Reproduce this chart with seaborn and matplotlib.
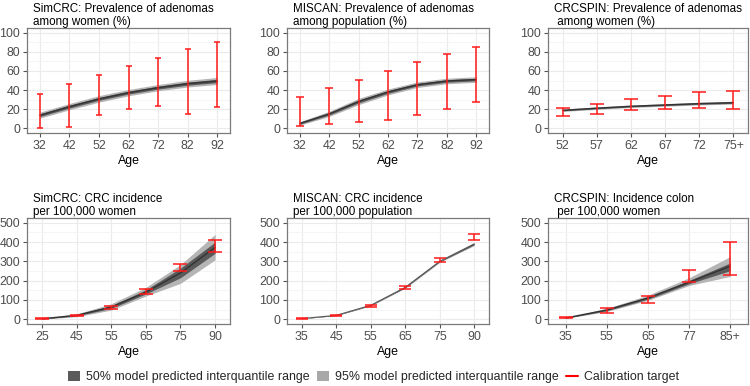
import matplotlib
matplotlib.use('Agg')
import matplotlib.pyplot as plt
import seaborn as sns
from matplotlib.patches import Patch
from matplotlib.lines import Line2D

# Panel 1: SimCRC adenoma prevalence (women)
ages1 = ['32', '42', '52', '62', '72', '82', '92']
med1 = [13.6, 22.6, 30.7, 37.3, 42.5, 46.7, 49.5]
lo50_1 = [12.2, 21.1, 29.2, 35.8, 41.0, 45.1, 47.8]
hi50_1 = [15.0, 24.1, 32.2, 38.8, 44.0, 48.3, 51.2]
lo95_1 = [10.5, 19.3, 27.3, 34.0, 39.2, 43.2, 45.8]
hi95_1 = [16.8, 25.9, 34.1, 40.6, 45.8, 50.2, 53.2]
tlo1 = [0, 1, 14, 20, 23, 15, 22]
thi1 = [36, 46, 56, 65, 74, 83, 90]

# Panel 2: MISCAN adenoma prevalence (population)
ages2 = ['32', '42', '52', '62', '72', '82', '92']
med2 = [5.0, 15.0, 28.0, 38.0, 45.6, 49.5, 51.0]
lo50_2 = [4.2, 13.8, 26.5, 36.6, 44.3, 48.2, 49.7]
hi50_2 = [5.8, 16.2, 29.5, 39.4, 46.9, 50.8, 52.3]
lo95_2 = [3.2, 12.3, 24.7, 34.9, 42.7, 46.6, 48.1]
hi95_2 = [6.8, 17.7, 31.3, 41.1, 48.5, 52.4, 53.9]
tlo2 = [2, 4, 7, 9, 14, 20, 27]
thi2 = [32.7, 42, 51, 60, 69, 78, 85]

# Panel 3: CRCSPIN adenoma prevalence (women)
ages3 = ['52', '57', '62', '67', '72', '75+']
med3 = [18.8, 21.0, 23.0, 24.4, 25.8, 26.8]
lo50_3 = [18.2, 20.4, 22.4, 23.8, 25.1, 26.1]
hi50_3 = [19.4, 21.6, 23.6, 25.0, 26.5, 27.5]
lo95_3 = [17.6, 19.7, 21.7, 23.1, 24.4, 25.3]
hi95_3 = [20.0, 22.3, 24.3, 25.7, 27.2, 28.3]
tlo3 = [13, 15.3, 19, 20, 21, 20.5]
thi3 = [21, 25.4, 30.7, 34, 38, 39]

# Panel 4: SimCRC CRC incidence
ages4 = ['25', '45', '55', '65', '75', '90']
med4 = [2, 20, 63, 140, 240, 372]
lo50_4 = [1, 17, 56, 131, 215, 342]
hi50_4 = [3, 23, 70, 152, 265, 400]
lo95_4 = [0, 13, 47, 120, 186, 308]
hi95_4 = [4, 27, 80, 165, 283, 440]
tlo4 = [1, 14, 55, 130, 248, 347]
thi4 = [4, 24, 69, 156, 288, 410]

# Panel 5: MISCAN CRC incidence
ages5 = ['35', '45', '55', '65', '75', '90']
med5 = [3, 20, 72, 165, 300, 390]
lo50_5 = [2.5, 19, 71, 163, 298, 386]
hi50_5 = [3.5, 21, 73, 167, 302, 394]
lo95_5 = [2, 18, 69, 161, 295, 382]
hi95_5 = [4, 22, 75, 169, 305, 398]
tlo5 = [3, 14, 62, 158, 297, 410]
thi5 = [6, 21, 71, 170, 316, 443]

# Panel 6: CRCSPIN colon incidence
ages6 = ['35', '55', '65', '77', '85+']
med6 = [6, 48, 110, 192, 275]
lo50_6 = [5, 44, 104, 184, 252]
hi50_6 = [7, 52, 116, 201, 292]
lo95_6 = [4, 40, 98, 175, 222]
hi95_6 = [8, 56, 125, 215, 325]
tlo6 = [4, 31, 83, 191, 231]
thi6 = [9, 57, 120, 253, 401]

titles = [
    'SimCRC: Prevalence of adenomas\namong women (%)',
    'MISCAN: Prevalence of adenomas\namong population (%)',
    'CRCSPIN: Prevalence of adenomas\n among women (%)',
    'SimCRC: CRC incidence\nper 100,000 women',
    'MISCAN: CRC incidence\nper 100,000 population',
    'CRCSPIN: Incidence colon\n per 100,000 women',
]

panels = [
    (ages1, med1, lo50_1, hi50_1, lo95_1, hi95_1, tlo1, thi1),
    (ages2, med2, lo50_2, hi50_2, lo95_2, hi95_2, tlo2, thi2),
    (ages3, med3, lo50_3, hi50_3, lo95_3, hi95_3, tlo3, thi3),
    (ages4, med4, lo50_4, hi50_4, lo95_4, hi95_4, tlo4, thi4),
    (ages5, med5, lo50_5, hi50_5, lo95_5, hi95_5, tlo5, thi5),
    (ages6, med6, lo50_6, hi50_6, lo95_6, hi95_6, tlo6, thi6),
]

caps = [2.4, 3.2, 4.7, 5.0, 4.3, 5.0]
med_lw = [1, 1, 1, 1, 0.8, 1]

sns.set_theme(style='white')
plt.rcParams['font.family'] = ['Liberation Sans', 'DejaVu Sans']

C95 = '#b5b5b5'
C50 = '#5a5a5a'
CMED = '#333333'

W, H = 750, 386
fig = plt.figure(figsize=(7.5, 3.86), dpi=100)

col_left = [27, 287, 548]
col_w = [203, 202, 200]
row_top = [28, 218]
row_h = [105, 106]

for i, (ages, med, lo50, hi50, lo95, hi95, tlo, thi) in enumerate(panels):
    r, c = divmod(i, 3)
    rect = [col_left[c] / W, 1 - (row_top[r] + row_h[r]) / H, col_w[c] / W, row_h[r] / H]
    ax = fig.add_axes(rect)
    x = list(range(len(ages)))

    ax.fill_between(x, lo95, hi95, color=C95, lw=0, zorder=2)
    ax.fill_between(x, lo50, hi50, color=C50, lw=0, zorder=3)
    sns.lineplot(x=x, y=med, ax=ax, color=CMED if i != 4 else '#555555',
                 lw=med_lw[i], zorder=4)
    mid = [(a + b) / 2 for a, b in zip(tlo, thi)]
    err = [(b - a) / 2 for a, b in zip(tlo, thi)]
    ax.errorbar(x, mid, yerr=err, fmt='none', ecolor='#ff1a1a', elinewidth=1.1,
                capsize=caps[i], capthick=1.1, zorder=5)

    pad = 0.43
    ax.set_xlim(-pad, len(ages) - 1 + pad)
    ax.set_xticks(x)
    ax.set_xticklabels(ages)
    if r == 0:
        ax.set_ylim(-5, 105)
        ax.set_yticks([0, 20, 40, 60, 80, 100])
        ax.set_yticks([10, 30, 50, 70, 90], minor=True)
    else:
        ax.set_ylim(-25, 525)
        ax.set_yticks([0, 100, 200, 300, 400, 500])
        ax.set_yticks([50, 150, 250, 350, 450], minor=True)

    ax.grid(True, which='major', color='#ebebeb', lw=0.8, zorder=0)
    ax.grid(True, which='minor', axis='y', color='#f4f4f4', lw=0.6, zorder=0)
    ax.set_axisbelow(True)
    for s in ax.spines.values():
        s.set_color('#7a7a7a')
        s.set_linewidth(0.9)
    ax.tick_params(axis='both', which='major', length=3, width=0.8, color='#555555',
                   labelsize=8.9, labelcolor='#4d4d4d', pad=2, bottom=True, left=True)
    ax.tick_params(which='minor', length=0)
    ax.set_xlabel('Age', fontsize=8.9, color='black', labelpad=2)
    ax.set_ylabel('')
    t = ax.set_title(titles[i], loc='left', fontsize=8.4, color='black', pad=2.5,
                     linespacing=1.05)
    t.set_x(6 / col_w[c])

patch_handles = [
    Patch(facecolor=C50, edgecolor='none', label='50% model predicted interquantile range'),
    Patch(facecolor='#a8a8a8', edgecolor='none', label='95% model predicted interquantile range'),
]
line_handle = [Line2D([0], [0], color='red', lw=1.5, label='Calibration target')]

leg_kw = dict(frameon=False, fontsize=8.9, handlelength=0.95, handleheight=0.95,
              handletextpad=0.5, borderpad=0, borderaxespad=0)
fig.legend(handles=patch_handles, loc='center left', bbox_to_anchor=(68 / W, 1 - 377 / H),
           ncol=2, columnspacing=0.6, **leg_kw)
fig.legend(handles=line_handle, loc='center left', bbox_to_anchor=(566 / W, 1 - 377 / H),
           ncol=1, **leg_kw)

plt.savefig('out.png', dpi=100)
plt.close()
